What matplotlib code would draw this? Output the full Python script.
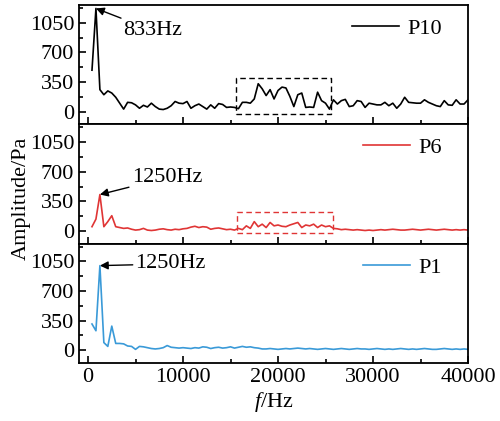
import numpy as np
import matplotlib
matplotlib.use("Agg")
import matplotlib.pyplot as plt
from matplotlib.ticker import MultipleLocator

plt.rcParams['font.family'] = ['Liberation Serif', 'DejaVu Serif']
plt.rcParams['mathtext.fontset'] = 'custom'
plt.rcParams['mathtext.it'] = 'Liberation Serif:italic'
plt.rcParams['mathtext.rm'] = 'Liberation Serif'

# frequency bins (Hz), resolution ~416.7 Hz
freq = np.arange(1, 97) * 416.67

p10 = [490, 1220, 260, 200, 245, 220, 170, 100, 30, 110,
       105, 80, 40, 75, 55, 100, 60, 30, 25, 40,
       70, 120, 100, 95, 120, 40, 70, 90, 60, 30,
       80, 40, 95, 85, 50, 55, 50, 35, 110, 110,
       100, 150, 330, 270, 190, 260, 150, 250, 290, 280,
       180, 60, 200, 220, 50, 55, 50, 230, 130, 100,
       30, 140, 90, 130, 145, 60, 70, 130, 120, 50,
       100, 90, 80, 80, 110, 70, 100, 40, 90, 170,
       110, 105, 100, 100, 140, 110, 90, 70, 60, 130,
       80, 75, 140, 90, 90, 140]

p6 = [50, 140, 430, 50, 110, 180, 50, 40, 30, 35,
      20, 10, 15, 30, 10, 5, 10, 20, 25, 15,
      10, 20, 15, 25, 30, 45, 55, 40, 50, 45,
      20, 30, 35, 25, 15, 20, 10, 30, 15, 60,
      30, 110, 50, 80, 40, 100, 60, 70, 55, 50,
      70, 85, 100, 40, 70, 60, 80, 40, 70, 50,
      60, 30, 25, 15, 20, 15, 10, 15, 10, 5,
      10, 5, 10, 15, 10, 15, 20, 15, 10, 10,
      15, 20, 15, 10, 15, 20, 15, 10, 15, 20,
      15, 10, 15, 10, 15, 10]

p1 = [310, 230, 1000, 90, 45, 285, 80, 80, 75, 50,
      45, 10, 45, 40, 30, 20, 15, 20, 30, 55,
      35, 30, 25, 30, 25, 20, 30, 25, 40, 35,
      20, 30, 35, 25, 30, 40, 25, 35, 45, 35,
      40, 30, 25, 15, 15, 20, 15, 10, 15, 20,
      15, 20, 25, 20, 15, 20, 15, 10, 15, 20,
      15, 10, 15, 20, 15, 10, 15, 20, 15, 15,
      10, 15, 20, 15, 10, 15, 10, 15, 20, 15,
      10, 15, 10, 15, 20, 15, 10, 10, 15, 20,
      15, 10, 15, 10, 15, 10]

labels = ['P10', 'P6', 'P1']
colors = ['black', '#e03535', '#3a9ad8']
series = [p10, p6, p1]
peak_text = ['833Hz', '1250Hz', '1250Hz']
peak_pt = [(833, 1220), (1250, 430), (1250, 1000)]
text_pt = [(3700, 960), (4600, 630), (5000, 1020)]
boxes = [(15600, 25600, -25, 400), (15700, 25800, -25, 225), None]

fs = 16

fig = plt.figure(figsize=(5.0, 4.21), dpi=100)
fig.subplots_adjust(left=0.158, right=0.936, top=0.988, bottom=0.138, hspace=0)
axes = fig.subplots(3, 1, sharex=True)

for ax, y, c, lab, pt, tp, txt, box in zip(axes, series, colors, labels,
                                           peak_pt, text_pt, peak_text, boxes):
    ax.plot(freq, y, color=c, lw=1.2, label=lab)
    ax.set_xlim(-950, 40000)
    ax.set_ylim(-150, 1260)
    ax.set_yticks([0, 350, 700, 1050])
    ax.yaxis.set_minor_locator(MultipleLocator(175))
    ax.xaxis.set_major_locator(MultipleLocator(10000))
    ax.xaxis.set_minor_locator(MultipleLocator(5000))
    ax.tick_params(which='both', direction='in', top=False, right=False,
                   labelsize=fs, width=1.2)
    ax.tick_params(which='major', length=5)
    ax.tick_params(which='minor', length=3)
    for s in ax.spines.values():
        s.set_linewidth(1.3)
    ax.annotate(txt, xy=pt, xytext=tp, fontsize=fs, va='center', ha='left',
                arrowprops=dict(arrowstyle='-|>', color='black', lw=1.0,
                                mutation_scale=12, shrinkA=0, shrinkB=0))
    if box is not None:
        x0, x1, y0, y1 = box
        ax.plot([x0, x1, x1, x0, x0], [y0, y0, y1, y1, y0],
                ls='--', color=c, lw=1.0, dashes=(4, 2.5))
    ax.legend(loc='upper right', bbox_to_anchor=(0.968, 1.0), frameon=False,
              fontsize=fs, handlelength=2.1, handletextpad=0.4,
              borderaxespad=0.2)

axes[2].set_xlabel(r'$\mathit{f}$/Hz', fontsize=fs, labelpad=2)
fig.text(0.042, 0.53, 'Amplitude/Pa', rotation=90, fontsize=fs,
         ha='center', va='center')

fig.savefig('out.png', dpi=100)
